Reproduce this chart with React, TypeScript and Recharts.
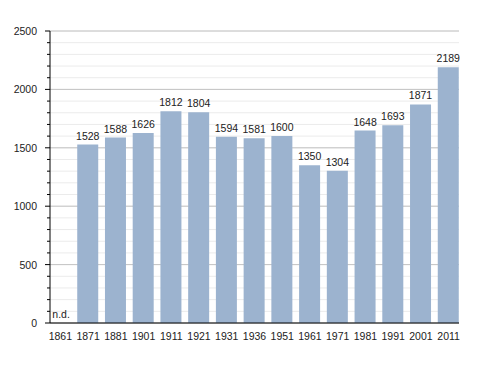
import React from 'react';
import { BarChart, Bar, XAxis, YAxis, CartesianGrid, LabelList, ReferenceDot } from 'recharts';

const years = ['1861', '1871', '1881', '1901', '1911', '1921', '1931', '1936', '1951', '1961', '1971', '1981', '1991', '2001', '2011'];
const population = [0, 1528, 1588, 1626, 1812, 1804, 1594, 1581, 1600, 1350, 1304, 1648, 1693, 1871, 2189];
const majorTicks = [0, 500, 1000, 1500, 2000, 2500];
const minorTicks = Array.from({ length: 26 }, (_, i) => i * 100);

const data = years.map((year, i) => ({ year, value: population[i] }));

const FONT = '"Liberation Sans", Arial, sans-serif';

const YTick = (props: any) => {
  const { x, y, payload } = props;
  const major = payload.value % 500 === 0;
  return (
    <g>
      <line x1={x - (major ? 5 : 3)} x2={x} y1={y} y2={y} stroke="#000" />
      {major && (
        <text x={x - 13} y={y} dy={4} textAnchor="end" fontSize={10.5} fontFamily={FONT} fill="#222">
          {payload.value}
        </text>
      )}
    </g>
  );
};

const ValueLabel = (props: any) => {
  const { x, y, width, value } = props;
  if (!value) return null;
  return (
    <text x={x + width / 2} y={y - 5} textAnchor="middle" fontSize={10.5} fontFamily={FONT} fill="#222">
      {value}
    </text>
  );
};

const NdLabel = (props: any) => {
  const { viewBox } = props;
  const cx = viewBox.x + (viewBox.width || 0) / 2;
  const cy = viewBox.y + (viewBox.height || 0) / 2;
  return (
    <text x={cx - 8} y={cy - 5} fontSize={10.5} fontFamily={FONT} fill="#222">
      n.d.
    </text>
  );
};

export default function App() {
  return (
    <div style={{ position: 'absolute', left: 0, top: 0, background: '#fff' }}>
      <BarChart width={488} height={373} data={data} margin={{ top: 31, right: 29, left: 0, bottom: 20 }}>
        <CartesianGrid vertical={false} horizontalValues={minorTicks} stroke="#ebebeb" />
        <CartesianGrid vertical={false} horizontalValues={majorTicks} stroke="#c4c4c4" />
        <XAxis
          dataKey="year"
          padding={{ left: -3.5, right: -3.5 }}
          axisLine={{ stroke: '#000' }}
          tickLine={false}
          tick={{ fontSize: 10.5, fontFamily: FONT, fill: '#222' }}
          tickMargin={4}
        />
        <YAxis
          width={50}
          domain={[0, 2500]}
          ticks={minorTicks}
          interval={0}
          axisLine={{ stroke: '#000' }}
          tickLine={false}
          tickSize={0}
          tickMargin={0}
          tick={<YTick />}
        />
        <Bar dataKey="value" fill="#9cb3cf" barSize={21} isAnimationActive={false}>
          <LabelList dataKey="value" content={<ValueLabel />} />
        </Bar>
        <ReferenceDot x={years[0]} y={population[0]} r={0} stroke="none" fill="none" label={<NdLabel />} />
      </BarChart>
    </div>
  );
}
